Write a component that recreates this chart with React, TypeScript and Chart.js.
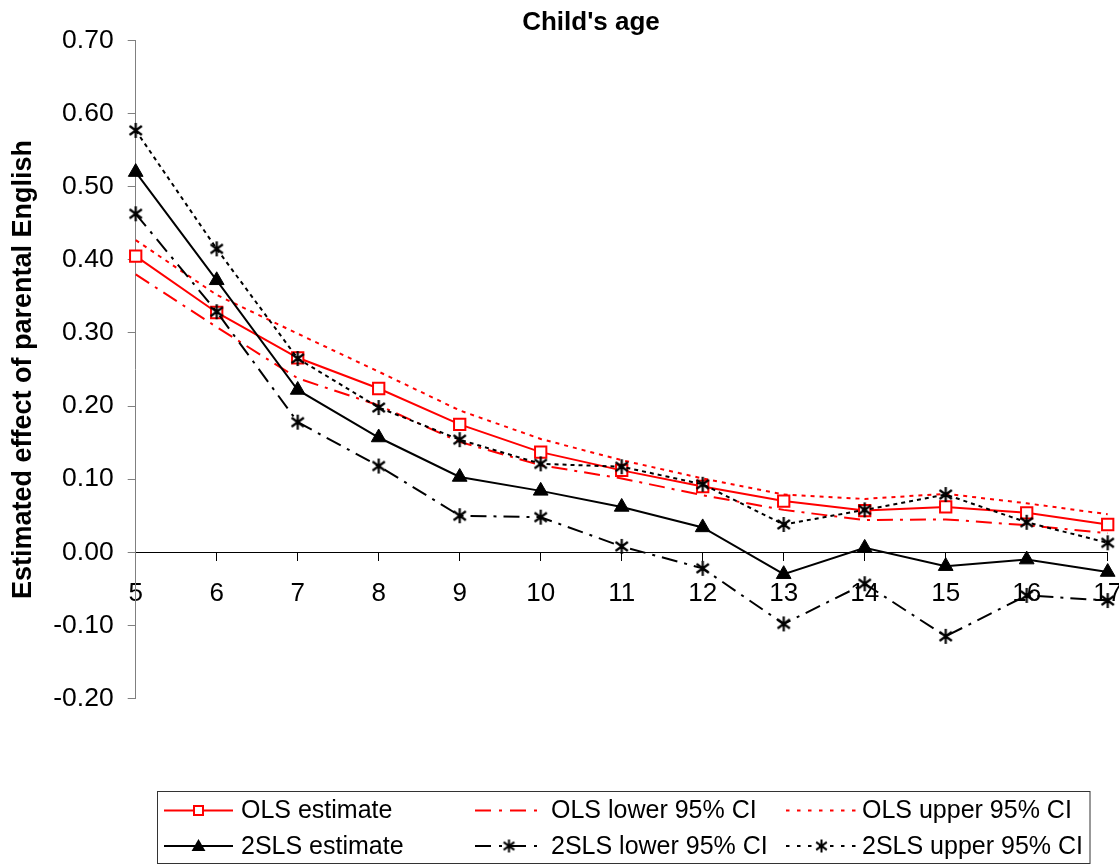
import React, { useEffect, useRef } from "react";
import { Chart, registerables } from "chart.js";

Chart.register(...registerables);

// ---- data ----
const ages = ["5", "6", "7", "8", "9", "10", "11", "12", "13", "14", "15", "16", "17"];
const olsEstimate = [0.405, 0.328, 0.266, 0.224, 0.175, 0.137, 0.112, 0.090, 0.070, 0.057, 0.062, 0.054, 0.038];
const olsLower = [0.380, 0.308, 0.238, 0.201, 0.151, 0.119, 0.101, 0.078, 0.058, 0.044, 0.045, 0.037, 0.026];
const olsUpper = [0.427, 0.352, 0.299, 0.247, 0.194, 0.155, 0.126, 0.101, 0.079, 0.073, 0.080, 0.067, 0.052];
const tslsEstimate = [0.520, 0.372, 0.222, 0.157, 0.103, 0.084, 0.062, 0.034, -0.030, 0.006, -0.019, -0.010, -0.027];
const tslsLower = [0.463, 0.329, 0.178, 0.118, 0.050, 0.048, 0.008, -0.022, -0.098, -0.043, -0.115, -0.059, -0.066];
const tslsUpper = [0.577, 0.415, 0.265, 0.198, 0.154, 0.121, 0.117, 0.093, 0.038, 0.058, 0.079, 0.041, 0.013];

const seriesLabels = [
  "OLS estimate",
  "OLS lower 95% CI",
  "OLS upper 95% CI",
  "2SLS estimate",
  "2SLS lower 95% CI",
  "2SLS upper 95% CI",
];
const chartTitle = "Child's age";
const yAxisTitle = "Estimated effect of parental English";
const yMin = -0.2;
const yMax = 0.7;
const yStep = 0.1;

const FONT = "'Liberation Sans', Arial, Helvetica, sans-serif";
const RED = "#FF0000";
const BLACK = "#000000";
const DASH_DOT = [16, 7, 3, 7];
const DOT_RED = [4, 5];
const DOT_BLACK = [4, 4];

function makeStar(size: number, color: string, lw: number): HTMLCanvasElement {
  const c = document.createElement("canvas");
  c.width = size;
  c.height = size;
  const ctx = c.getContext("2d")!;
  const m = size / 2;
  const r = size / 2 - 1;
  ctx.strokeStyle = color;
  ctx.lineWidth = lw;
  ctx.lineCap = "butt";
  ctx.beginPath();
  ctx.moveTo(m, m - r);
  ctx.lineTo(m, m + r);
  ctx.moveTo(m - 0.82 * r, m - 0.6 * r);
  ctx.lineTo(m + 0.82 * r, m + 0.6 * r);
  ctx.moveTo(m - 0.82 * r, m + 0.6 * r);
  ctx.lineTo(m + 0.82 * r, m - 0.6 * r);
  ctx.stroke();
  return c;
}

function drawTriangle(ctx: CanvasRenderingContext2D, x: number, y: number, r: number) {
  ctx.beginPath();
  ctx.moveTo(x, y - r);
  ctx.lineTo(x + r * 0.866, y + r / 2);
  ctx.lineTo(x - r * 0.866, y + r / 2);
  ctx.closePath();
  ctx.fill();
}

export default function App() {
  const canvasRef = useRef<HTMLCanvasElement | null>(null);

  useEffect(() => {
    if (!canvasRef.current) return;
    const star = makeStar(17, BLACK, 2.2);
    const legendStar = makeStar(15, BLACK, 2);

    const decor = {
      id: "decor",
      afterDraw(chart: any) {
        const ctx: CanvasRenderingContext2D = chart.ctx;
        ctx.save();
        // title
        ctx.fillStyle = BLACK;
        ctx.font = `bold 26px ${FONT}`;
        ctx.textAlign = "center";
        ctx.textBaseline = "alphabetic";
        ctx.fillText(chartTitle, 591, 29.5);

        // legend box
        ctx.strokeStyle = "#333333";
        ctx.lineWidth = 1;
        ctx.setLineDash([]);
        ctx.strokeRect(157.5, 791.5, 932.5, 72);

        const rows = [810.5, 846];
        const cols = [
          { x0: 164, x1: 233, tx: 241 },
          { x0: 475, x1: 543, tx: 551 },
          { x0: 786, x1: 857, tx: 862 },
        ];
        const items = [
          { row: 0, col: 0, color: RED, dash: [] as number[], marker: "square" },
          { row: 0, col: 1, color: RED, dash: [16, 8, 3, 8], marker: "none" },
          { row: 0, col: 2, color: RED, dash: [3.5, 7.5], marker: "none" },
          { row: 1, col: 0, color: BLACK, dash: [] as number[], marker: "triangle" },
          { row: 1, col: 1, color: BLACK, dash: [16, 8, 3, 8], marker: "star" },
          { row: 1, col: 2, color: BLACK, dash: [3.5, 7.5], marker: "star" },
        ];
        items.forEach((it, i) => {
          const y = rows[it.row];
          const c = cols[it.col];
          ctx.strokeStyle = it.color;
          ctx.lineWidth = 2;
          ctx.setLineDash(it.dash);
          ctx.beginPath();
          ctx.moveTo(c.x0, y);
          ctx.lineTo(c.x1, y);
          ctx.stroke();
          ctx.setLineDash([]);
          const mx = (c.x0 + c.x1) / 2;
          if (it.marker === "square") {
            ctx.fillStyle = "#ffffff";
            ctx.fillRect(mx - 4.5, y - 4.5, 9, 9);
            ctx.strokeStyle = RED;
            ctx.lineWidth = 2;
            ctx.strokeRect(mx - 4.5, y - 4.5, 9, 9);
          } else if (it.marker === "triangle") {
            ctx.fillStyle = BLACK;
            drawTriangle(ctx, mx, y + 1, 8);
          } else if (it.marker === "star") {
            ctx.drawImage(legendStar, mx - legendStar.width / 2, y - legendStar.height / 2);
          }
          ctx.fillStyle = BLACK;
          ctx.font = `25px ${FONT}`;
          ctx.textAlign = "left";
          ctx.textBaseline = "middle";
          ctx.fillText(seriesLabels[i], c.tx, y + 1);
        });
        ctx.restore();
      },
    };

    const chart = new Chart(canvasRef.current, {
      type: "line",
      data: {
        labels: ages,
        datasets: [
          {
            label: seriesLabels[0],
            data: olsEstimate,
            borderColor: RED,
            borderWidth: 2,
            pointStyle: "rect",
            pointRadius: 8,
            pointBorderWidth: 2,
            pointBackgroundColor: "#ffffff",
            pointBorderColor: RED,
            clip: false,
            order: 6,
          },
          {
            label: seriesLabels[1],
            data: olsLower,
            borderColor: RED,
            borderWidth: 2,
            borderDash: DASH_DOT,
            pointRadius: 0,
            clip: false,
            order: 5,
          },
          {
            label: seriesLabels[2],
            data: olsUpper,
            borderColor: RED,
            borderWidth: 2,
            borderDash: DOT_RED,
            pointRadius: 0,
            clip: false,
            order: 4,
          },
          {
            label: seriesLabels[3],
            data: tslsEstimate,
            borderColor: BLACK,
            borderWidth: 2,
            pointStyle: "triangle",
            pointRadius: 8.5,
            pointBorderWidth: 1,
            pointBackgroundColor: BLACK,
            pointBorderColor: BLACK,
            clip: false,
            order: 3,
          },
          {
            label: seriesLabels[4],
            data: tslsLower,
            borderColor: BLACK,
            borderWidth: 2,
            borderDash: DASH_DOT,
            pointStyle: star as any,
            pointRadius: 8,
            clip: false,
            order: 2,
          },
          {
            label: seriesLabels[5],
            data: tslsUpper,
            borderColor: BLACK,
            borderWidth: 2,
            borderDash: DOT_BLACK,
            pointStyle: star as any,
            pointRadius: 8,
            clip: false,
            order: 1,
          },
        ] as any,
      },
      options: {
        animation: false,
        responsive: true,
        maintainAspectRatio: false,
        events: [],
        layout: { padding: { left: 0, right: 11.3, top: 40.5, bottom: 166.5 } },
        elements: { line: { tension: 0 } },
        plugins: {
          legend: { display: false },
          title: { display: false },
          tooltip: { enabled: false },
        },
        scales: {
          x: {
            type: "category",
            position: { y: 0 } as any,
            offset: false,
            ticks: {
              font: { family: FONT, size: 26 },
              color: BLACK,
              padding: 17.5,
              maxRotation: 0,
              autoSkip: false,
            },
            grid: { drawOnChartArea: false, drawTicks: true, tickLength: 8, color: BLACK },
            border: { display: true, color: BLACK, width: 1 },
            afterFit: (s: any) => {
              s.paddingLeft = 0;
              s.paddingRight = 0;
            },
          },
          y: {
            type: "linear",
            min: yMin,
            max: yMax,
            ticks: {
              stepSize: yStep,
              font: { family: FONT, size: 26.5 },
              color: BLACK,
              padding: 14,
              callback: (v: any) => {
                const n = Number(v);
                return (Math.abs(n) < 1e-9 ? 0 : n).toFixed(2);
              },
            },
            grid: { drawOnChartArea: false, drawTicks: true, tickLength: 8, color: "#808080" },
            border: { display: true, color: "#808080", width: 1 },
            title: {
              display: true,
              text: yAxisTitle,
              color: BLACK,
              font: { family: FONT, size: 27, weight: "bold" },
              padding: { top: 7, bottom: 0 },
            },
            afterFit: (s: any) => {
              s.width = 135.7;
            },
          },
        },
      },
      plugins: [decor],
    } as any);

    return () => chart.destroy();
  }, []);

  return (
    <div style={{ position: "fixed", left: 0, top: 0, width: 1119, height: 865, background: "#fff" }}>
      <canvas ref={canvasRef} />
    </div>
  );
}
